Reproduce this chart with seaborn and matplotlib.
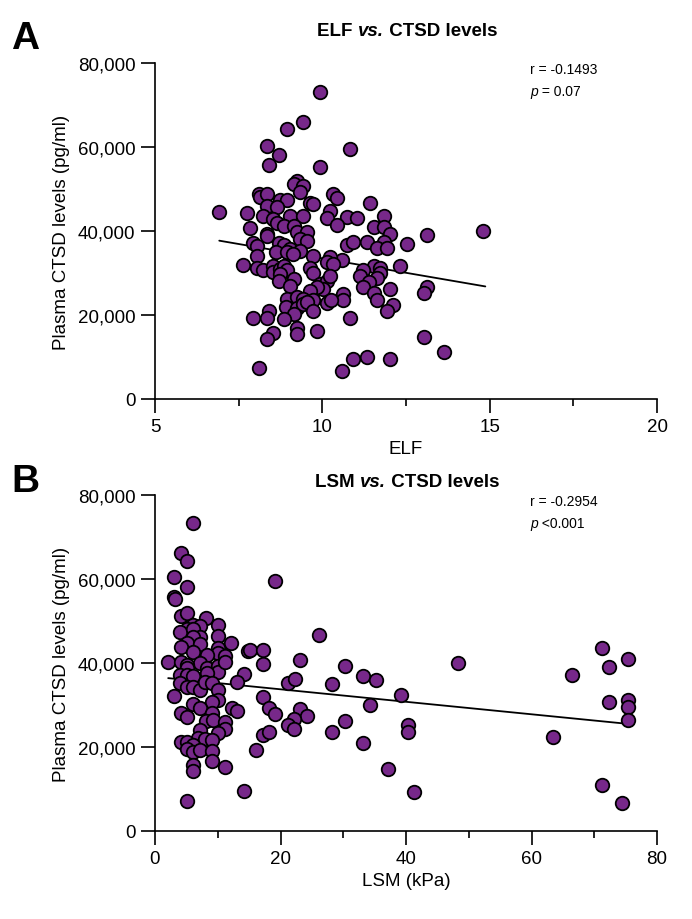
import numpy as np
import pandas as pd
import matplotlib
matplotlib.use("Agg")
import matplotlib.pyplot as plt
import seaborn as sns
from matplotlib.ticker import FuncFormatter, MultipleLocator

# ---------------- data ----------------
elf_x = [9.93, 9.43, 8.94, 8.34, 8.72, 8.42, 9.93, 10.83, 9.24, 9.14, 9.43, 9.33, 8.12, 8.14, 8.34,
         8.74, 8.94, 9.63, 9.73, 10.33, 10.43, 8.34, 8.64, 6.92, 7.74, 8.24, 9.04, 9.43, 10.23, 10.13,
         10.73, 8.54, 8.64, 10.43, 7.84, 8.84, 9.14, 11.43, 11.03, 11.83, 11.53, 11.83, 14.81, 13.12, 12.52,
         12.02, 10.73, 10.93, 11.33, 11.83, 11.63, 11.93, 10.58, 11.53, 11.73, 12.32, 11.23, 11.13, 11.73, 11.63,
         11.38, 11.23, 12.02, 13.14, 13.04, 11.53, 11.63, 10.63, 10.63, 12.12, 11.93, 10.83, 13.04, 13.64, 10.93,
         11.33, 12.02, 10.58, 8.34, 8.34, 9.24, 9.53, 9.33, 9.53, 7.92, 8.04, 8.72, 8.84, 9.04, 9.33,
         8.62, 8.94, 9.12, 8.04, 9.73, 10.23, 10.13, 10.33, 7.62, 8.04, 8.24, 8.52, 8.54, 8.74, 8.84,
         8.94, 8.74, 9.63, 9.73, 8.72, 9.14, 9.04, 9.93, 10.13, 10.23, 10.03, 9.83, 9.63, 8.94, 9.24,
         9.43, 9.73, 10.13, 10.25, 8.92, 9.24, 9.43, 9.53, 9.14, 9.73, 8.42, 7.94, 8.34, 8.86, 9.24,
         9.24, 9.83, 8.54, 8.34, 8.12]
elf_ctsd = [73.0, 65.9, 64.3, 60.3, 58.2, 55.6, 55.3, 59.5, 52.0, 51.2, 50.6, 49.2, 48.8, 48.0, 48.8,
            47.5, 47.5, 46.7, 46.4, 48.8, 47.9, 46.0, 45.6, 44.6, 44.2, 43.6, 43.6, 43.6, 44.8, 43.0,
            43.4, 42.9, 41.9, 41.5, 40.6, 41.3, 41.3, 46.6, 43.0, 43.6, 40.9, 40.9, 40.0, 39.1, 36.9,
            39.3, 36.7, 37.3, 37.3, 37.5, 36.0, 36.0, 33.2, 31.7, 31.3, 31.7, 30.8, 29.2, 30.0, 28.7,
            27.9, 26.6, 26.3, 26.6, 25.2, 25.2, 23.6, 25.0, 23.6, 22.4, 21.0, 19.4, 14.8, 11.1, 9.5,
            9.9, 9.5, 6.7, 39.3, 38.7, 39.7, 39.7, 38.1, 37.7, 37.1, 36.5, 37.1, 36.7, 35.7, 35.3,
            35.1, 35.1, 34.5, 34.1, 34.1, 33.7, 32.7, 32.1, 32.0, 31.1, 30.8, 31.7, 30.2, 31.0, 31.7,
            30.6, 29.8, 31.3, 30.0, 28.2, 28.6, 27.0, 27.4, 28.2, 29.4, 26.2, 26.6, 25.8, 23.8, 24.2,
            23.8, 23.6, 22.9, 23.6, 21.8, 21.6, 22.6, 23.2, 20.2, 21.0, 21.0, 19.4, 19.2, 19.0, 16.8,
            15.5, 16.3, 15.6, 14.4, 7.3]

lsm_x = [6.1, 4.1, 5.15, 3.03, 5.15, 3.03, 3.14, 4.1, 5.15, 8.13, 10.1, 6.1, 7.17, 5.05, 3.98,
         6.1, 7.17, 6.1, 10.1, 12.1, 5.15, 7.17, 4.1, 6.1, 10.1, 10.1, 14.87, 8.23, 11.15, 2.13,
         4.1, 7.17, 5.15, 5.15, 8.23, 10.1, 10.1, 11.15, 14.18, 13.0, 3.98, 5.05, 6.1, 3.98, 5.05,
         6.1, 7.17, 8.23, 7.97, 9.03, 10.1, 3.03, 10.1, 9.03, 6.1, 7.17, 12.2, 13.1, 4.1, 5.15,
         9.03, 8.13, 9.19, 11.15, 11.15, 10.1, 7.17, 6.9, 7.97, 9.03, 4.1, 5.15, 6.1, 5.15, 6.1,
         7.17, 9.03, 9.03, 6.1, 6.1, 11.15, 14.18, 5.15, 19.12, 26.2, 15.14, 17.16, 17.16, 23.1, 30.2,
         33.2, 35.2, 21.25, 22.3, 28.2, 39.2, 34.3, 17.16, 18.2, 19.1, 23.1, 24.2, 22.2, 21.25, 22.2,
         30.2, 17.16, 18.2, 28.2, 40.3, 40.3, 33.2, 16.1, 37.2, 41.2, 48.3, 66.4, 71.3, 75.4, 72.4,
         72.4, 75.4, 75.4, 75.4, 63.4, 71.3, 74.4]
lsm_ctsd = [73.3, 66.1, 64.4, 60.4, 58.2, 55.6, 55.2, 51.3, 51.9, 50.7, 49.0, 49.0, 48.9, 48.1, 47.3,
            48.1, 46.3, 46.1, 46.5, 44.8, 44.8, 44.5, 43.7, 42.7, 43.5, 42.5, 42.9, 42.0, 41.7, 40.2,
            40.2, 39.9, 39.5, 38.7, 38.9, 39.2, 37.9, 40.3, 37.4, 35.4, 37.1, 37.1, 37.0, 35.2, 34.2,
            34.4, 33.6, 37.7, 35.5, 35.2, 33.6, 32.2, 31.3, 30.8, 30.2, 29.4, 29.2, 28.6, 28.2, 27.1,
            28.2, 26.3, 26.5, 25.9, 24.4, 23.3, 24.0, 22.1, 21.9, 21.7, 21.1, 21.1, 20.5, 19.5, 18.9,
            19.4, 19.1, 16.7, 15.7, 14.4, 15.3, 9.6, 7.2, 59.6, 46.7, 43.1, 43.1, 39.8, 40.8, 39.2,
            37.0, 36.0, 35.2, 36.2, 35.0, 32.5, 30.0, 32.0, 29.3, 27.9, 29.0, 27.5, 26.7, 25.3, 24.3,
            26.3, 22.9, 23.6, 23.5, 25.2, 23.6, 21.0, 19.4, 14.8, 9.4, 39.9, 37.2, 43.6, 40.9, 39.1,
            30.8, 31.3, 29.6, 26.4, 22.4, 11.0, 6.7]

# regression lines (endpoints)
elf_fit_x = [6.92, 14.87]
elf_fit_y = [37.7, 26.8]
lsm_fit_x = [2.1, 75.4]
lsm_fit_y = [36.4, 25.5]

elf_ticks = [5, 10, 15, 20]
lsm_ticks = [0, 20, 40, 60, 80]
y_ticks = [0, 20000, 40000, 60000, 80000]

elf_stats = ("r = -0.1493", "p", " = 0.07")
lsm_stats = ("r = -0.2954", "p", " <0.001")

df_elf = pd.DataFrame({"ELF": elf_x, "CTSD": np.array(elf_ctsd) * 1000})
df_lsm = pd.DataFrame({"LSM": lsm_x, "CTSD": np.array(lsm_ctsd) * 1000})
fit_elf = pd.DataFrame({"x": elf_fit_x, "y": np.array(elf_fit_y) * 1000})
fit_lsm = pd.DataFrame({"x": lsm_fit_x, "y": np.array(lsm_fit_y) * 1000})

# ---------------- style ----------------
sns.set_style("ticks")
plt.rcParams["font.family"] = ["Liberation Sans", "DejaVu Sans"]
plt.rcParams["text.color"] = "black"
plt.rcParams["axes.labelcolor"] = "black"
plt.rcParams["axes.edgecolor"] = "black"
plt.rcParams["xtick.color"] = "black"
plt.rcParams["ytick.color"] = "black"
plt.rcParams["axes.linewidth"] = 1.2

W, H = 692, 920
fig = plt.figure(figsize=(W / 100, H / 100), dpi=100)

def fx(px):
    return px / W

def fy(py):
    return 1 - py / H

axA = fig.add_axes([fx(155), fy(400), fx(657) - fx(155), fy(64) - fy(400)])
axB = fig.add_axes([fx(155), fy(832), fx(657) - fx(155), fy(496) - fy(832)])

PURPLE = "#77288a"
fmt = FuncFormatter(lambda v, p: f"{int(v):,}")

renderer = fig.canvas.get_renderer()

def seg_text(x_px, y_px, segments, ha="left", va="center"):
    """Draw consecutive text segments (text, fontsize, weight, style)."""
    objs = []
    for txt, size, weight, style in segments:
        t = fig.text(0, fy(y_px), txt, fontsize=size, fontweight=weight,
                     fontstyle=style, va=va, ha="left", color="black")
        objs.append(t)
    widths = [t.get_window_extent(renderer).width for t in objs]
    total = sum(widths)
    start = x_px - total / 2 if ha == "center" else x_px
    cur = start
    for t, w in zip(objs, widths):
        t.set_x(fx(cur))
        cur += w

panels = [
    (axA, df_elf, "ELF", fit_elf, (5, 20), elf_ticks, 2.5, "ELF", "ELF", elf_stats, "A", 64, 39, 32),
    (axB, df_lsm, "LSM", fit_lsm, (0, 80), lsm_ticks, 10, "LSM (kPa)", "LSM", lsm_stats, "B", 496, 482, 483),
]
for (ax, df, xcol, fit, xlim, xticks, minor, xlabel, title_var, stats,
     letter, top, letter_y, title_y) in panels:
    sns.lineplot(data=fit, x="x", y="y", ax=ax, color="black", linewidth=1.3, zorder=2)
    sns.scatterplot(data=df, x=xcol, y="CTSD", ax=ax, s=95, color=PURPLE,
                    edgecolor="black", linewidth=1.3, zorder=3, clip_on=False)
    ax.set_xlim(*xlim)
    ax.set_ylim(0, 80000)
    ax.set_xticks(xticks)
    ax.xaxis.set_minor_locator(MultipleLocator(minor))
    ax.set_yticks(y_ticks)
    ax.yaxis.set_major_formatter(fmt)
    ax.tick_params(which="major", length=10, width=1.2, labelsize=13.5, colors="black", pad=4)
    ax.tick_params(axis="x", which="minor", length=5, width=1.2, colors="black")
    ax.set_xlabel(xlabel, fontsize=13.5, labelpad=3, color="black")
    ax.set_ylabel("Plasma CTSD levels (pg/ml)", fontsize=13.5, labelpad=6, color="black")
    sns.despine(ax=ax)
    # panel letter
    fig.text(fx(11), fy(letter_y), letter, fontsize=28, fontweight="bold", va="center",
             ha="left", color="black")
    # title
    seg_text(407, title_y, [(title_var + " ", 13.5, "bold", "normal"),
                            ("vs.", 13.5, "bold", "italic"),
                            (" CTSD levels", 13.5, "bold", "normal")], ha="center")
    # stats
    seg_text(530, top + 6, [(stats[0], 10, "normal", "normal")])
    seg_text(530, top + 28, [(stats[1], 10, "normal", "italic"),
                             (stats[2], 10, "normal", "normal")])

fig.savefig("out.png", dpi=100)
